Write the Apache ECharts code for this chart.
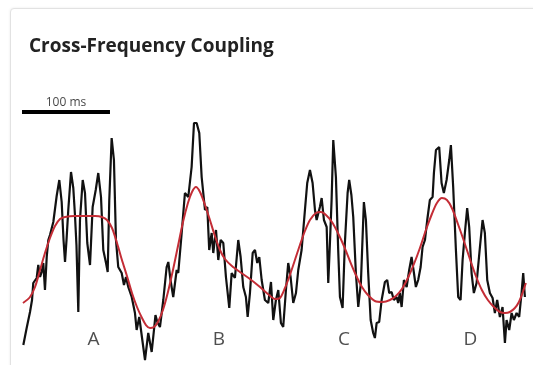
<!DOCTYPE html>
<html>
<head>
<meta charset="utf-8">
<script src="https://cdn.jsdelivr.net/npm/echarts@6/dist/echarts.min.js"></script>
<style>
  html, body { margin: 0; padding: 0; background: #fff; width: 533px; height: 365px; overflow: hidden; }
  #card { position: absolute; left: 10px; top: 8px; width: 560px; height: 400px; border: 1px solid #e2e2e2; border-radius: 4px; box-shadow: 0 0 3px rgba(0,0,0,0.08); background: #fff; }
  #main { position: absolute; left: 0; top: 0; width: 533px; height: 365px; }
</style>
</head>
<body>
<div id="card"></div>
<div id="main"></div>
<script>
// Raw signal (black): time in ms, amplitude in arbitrary units
const rawTime = [1.5,5.3,9.1,11.4,12.8,14.8,16.7,18.5,20.5,22.4,24.2,26.1,28.1,29.9,31.8,35.6,39.4,42.4,45.1,47.2,48.9,50.6,52.6,55.7,58.3,60.2,61.9,64.0,65.9,69.0,71.6,74.2,77.3,80.3,83.8,86.7,89.8,92.4,95.5,97.4,99.2,101.9,104.5,106.8,109.4,113.3,115.9,118.2,120.8,124.7,128.4,130.3,133.3,136.0,139.8,143.5,147.4,150.0,151.7,153.8,156.8,160.6,164.4,166.3,168.8,171.9,175.8,177.6,181.5,185.2,189.0,192.8,195.5,198.5,201.5,204.2,208.0,210.6,212.8,215.6,217.4,220.5,223.1,225.8,228.8,231.8,235.6,238.3,242.0,245.8,248.5,251.5,254.5,256.5,259.1,262.2,264.8,267.4,269.7,272.4,276.1,279.9,283.0,285.6,288.6,291.3,294.3,296.9,300.0,302.6,305.3,308.3,311.4,314.0,317.8,321.6,324.2,327.3,330.3,333.0,334.9,338.6,340.6,343.2,346.3,348.1,350.0,351.9,353.8,356.8,359.4,361.4,364.4,367.0,370.1,371.9,374.4,376.5,379.5,382.2,385.2,388.6,390.9,393.5,396.3,399.2,401.1,403.1,406.0,408.8,412.5,415.1,417.4,420.1,422.7,425.8,427.6,429.5,431.5,434.1,437.2,440.1,442.8,445.5,447.7,450.3,453.1,455.3,458.0,460.6,463.6,466.7,468.2,470.5,474.2,476.9,479.5,482.6,485.6,487.5,490.1,493.2,495.8,498.5,500.8,503.4,506.0,508.3,511.0,513.6,516.7,520.5,523.5,526.1,528.8,531.8,534.9,537.5,540.1,543.2,546.2,548.9,550.8,553.8,556.5,559.1,562.2,565.1,567.8,569.7,571.6];
const rawAmp = [-105,-88,-72,-60,-43,-45,-38,-25,-37,-32,-23,-50,-17,0,5,18,44,60,38,0,-22,0,30,68,52,25,-5,-72,20,60,47,-3,-25,33,50,67,43,-10,-23,-32,40,102,80,0,-27,-33,-45,-37,-47,-57,-73,-90,-77,-95,-120,-93,-112,-90,-75,-82,-87,-60,-27,-22,-40,-57,-30,-33,7,47,43,73,117,117,107,63,30,33,-10,7,-13,10,-20,0,-3,-37,-68,-33,-38,0,-17,-47,-57,-77,-53,-13,-10,-23,-17,-40,-60,-63,-42,-80,-60,-50,-83,-87,-50,-23,-37,-63,-53,-30,-10,30,57,70,57,30,20,33,42,20,13,-43,-3,40,100,63,-10,-57,-68,-3,47,60,45,23,-33,-67,-43,38,20,-33,-80,-93,-98,-83,-82,-60,-42,-40,-53,-52,-60,-57,-63,-53,-67,-40,-47,-30,-17,-33,-47,-40,-27,-7,0,20,40,43,67,90,93,57,47,60,80,95,53,-10,-57,-60,-20,7,32,13,-33,-53,-43,-7,20,7,-40,-53,-58,-73,-60,-77,-67,-103,-80,-90,-73,-80,-73,-77,-53,-33,-57];

// Low-frequency component (red)
const slowTime = [1.1,9.1,14.8,20.5,26.1,31.8,37.5,43.2,48.9,60.2,71.6,83.0,90.9,96.6,102.3,108.0,113.6,119.3,125.0,130.7,136.4,140.9,145.5,150.0,154.5,160.2,165.9,171.6,177.3,183.0,188.6,193.2,197.7,202.3,208.0,213.6,219.3,225.0,230.7,238.6,247.7,259.1,270.5,279.5,287.5,293.2,298.9,304.5,310.2,315.9,321.6,327.3,334.1,339.8,345.5,352.3,359.1,365.9,372.7,379.5,386.4,393.2,401.1,410.2,418.2,425.0,431.8,438.6,445.5,452.3,459.1,465.9,471.6,477.3,483.0,488.6,495.5,502.3,509.1,515.9,522.7,529.5,536.4,543.2,548.9,554.5,560.2,564.8,569.3,572.7];
const slowAmp = [-63,-57,-47,-30,-13,2,14,21,23,24,24,24,23,20,12,-3,-20,-36,-53,-67,-78,-85,-88,-87,-82,-70,-52,-30,-6,18,37,48,53,48,35,20,4,-10,-19,-26,-32,-39,-47,-54,-59,-58,-48,-35,-20,-5,9,20,27,28,25,18,7,-6,-21,-35,-47,-55,-61,-62,-60,-56,-49,-38,-24,-8,10,26,37,42,40,32,16,-1,-19,-36,-50,-60,-67,-72,-73,-72,-68,-62,-52,-43];

// Annotations
const scaleBarTime = [0, 100];
const scaleBarLabel = '100 ms';
const phaseLabels = ['A', 'B', 'C', 'D'];
const phaseLabelTime = [81.3, 223.9, 365.9, 509.7];
const phaseLabelAmp = -100;
const scaleBarAmp = 128;

const chart = echarts.init(document.getElementById('main'), null, { renderer: 'canvas' });
const zip = (a, b) => a.map((v, i) => [v, b[i]]);

chart.setOption({
  animation: false,
  backgroundColor: 'transparent',
  title: {
    text: 'Cross-Frequency Coupling',
    left: 24, top: 32,
    textStyle: { fontFamily: 'Open Sans', fontWeight: 'bold', fontSize: 19, color: '#222' }
  },
  grid: { left: 22, right: 6, top: 110, bottom: 0 },
  xAxis: { type: 'value', min: 0, max: 574, show: false },
  yAxis: { type: 'value', min: -125, max: 130, show: false },
  series: [
    {
      type: 'line', data: zip(rawTime, rawAmp), showSymbol: false, silent: true,
      lineStyle: { color: '#111', width: 2.2 }
    },
    {
      type: 'line', data: zip(slowTime, slowAmp), showSymbol: false, smooth: 0.3, silent: true,
      lineStyle: { color: '#c42d36', width: 2 }
    },
    {
      type: 'line', data: scaleBarTime.map(t => [t, scaleBarAmp]), showSymbol: false, silent: true,
      lineStyle: { color: '#000', width: 4, cap: 'butt' }
    },
    {
      type: 'scatter', symbolSize: 0, silent: true,
      data: [[(scaleBarTime[0] + scaleBarTime[1]) / 2, scaleBarAmp]],
      label: { show: true, position: 'top', distance: 3, formatter: scaleBarLabel,
        fontFamily: 'Open Sans', fontSize: 12, color: '#111' }
    },
    {
      type: 'scatter', symbolSize: 0, silent: true,
      data: phaseLabels.map((l, i) => ({ value: [phaseLabelTime[i], phaseLabelAmp], name: l })),
      label: { show: true, position: 'inside', formatter: p => p.name,
        fontFamily: 'Open Sans', fontSize: 19, color: '#222' }
    }
  ]
});
</script>
</body>
</html>
